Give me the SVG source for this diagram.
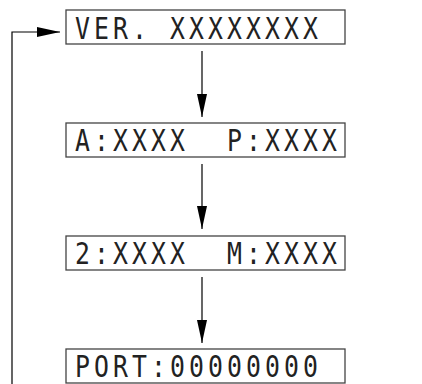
<svg xmlns="http://www.w3.org/2000/svg" width="422" height="384" viewBox="0 0 422 384">
<style>
.box{fill:#fff;stroke:#444;stroke-width:1.3}
.lcd{font-family:"DejaVu Sans Mono","Liberation Mono",monospace;font-size:31px;letter-spacing:5.1px;fill:#222}
.ln{stroke:#000;stroke-width:1.2;fill:none}
</style>
<defs>
<marker id="ah" markerUnits="userSpaceOnUse" markerWidth="24" markerHeight="11" refX="23" refY="5" orient="auto"><path d="M0,0 L23,5 L0,10 z" fill="#000"/></marker>
</defs>
<g id="connectors">
<line class="ln" x1="202" y1="51" x2="202" y2="117" marker-end="url(#ah)"/>
<line class="ln" x1="202" y1="164" x2="202" y2="229" marker-end="url(#ah)"/>
<line class="ln" x1="202" y1="277" x2="202" y2="343" marker-end="url(#ah)"/>
<polyline class="ln" points="12,384 12,32 60,32" marker-end="url(#ah)"/>
</g>
<g id="n1"><rect class="box" x="66" y="10" width="279" height="34"/><text class="lcd" xml:space="preserve" transform="translate(75,39) scale(0.8,1)">VER. XXXXXXXX</text></g>
<g id="n2"><rect class="box" x="66" y="123" width="279" height="34"/><text class="lcd" xml:space="preserve" transform="translate(75,151) scale(0.8,1)">A:XXXX  P:XXXX</text></g>
<g id="n3"><rect class="box" x="66" y="236" width="279" height="34"/><text class="lcd" xml:space="preserve" transform="translate(75,264) scale(0.8,1)">2:XXXX  M:XXXX</text></g>
<g id="n4"><rect class="box" x="66" y="349" width="279" height="34"/><text class="lcd" xml:space="preserve" transform="translate(75,377) scale(0.8,1)">PORT:00000000</text></g>
</svg>
